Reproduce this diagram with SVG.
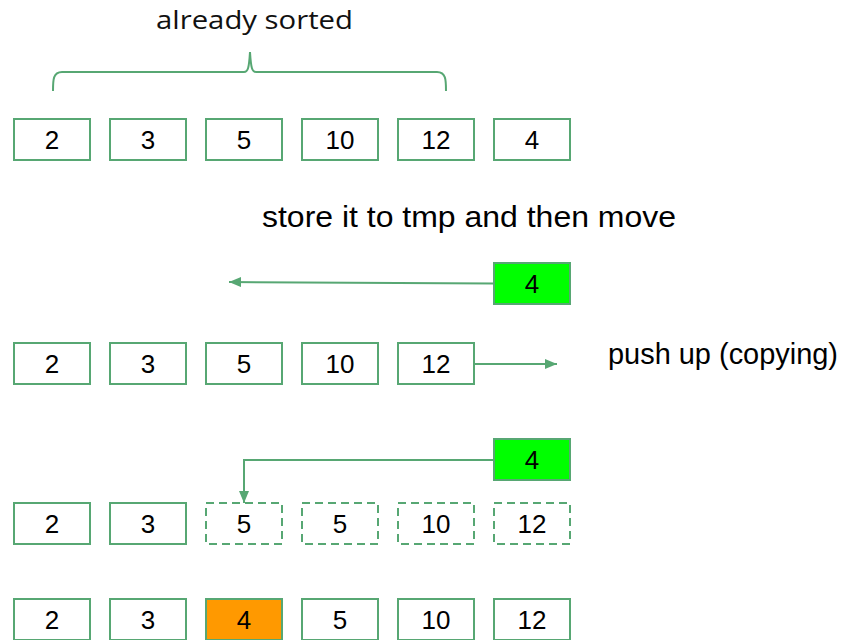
<svg xmlns="http://www.w3.org/2000/svg" width="851" height="640" viewBox="0 0 851 640">
<defs>
<style>
.box{fill:#ffffff;stroke:#57a773;stroke-width:2}
.dash{fill:#ffffff;stroke:#57a773;stroke-width:2;stroke-dasharray:8,5}
.tmp{fill:#00ff00;stroke:#57a773;stroke-width:2}
.hit{fill:#ff9900;stroke:#57a773;stroke-width:2}
.num{font-family:"Liberation Sans",Arial,sans-serif;font-size:26px;fill:#000000;text-anchor:middle}
.lbl{font-family:"Liberation Sans",Arial,sans-serif;font-size:29px;fill:#000000}
.conn{fill:none;stroke:#57a773;stroke-width:2}
</style>
<marker id="ah" markerUnits="userSpaceOnUse" markerWidth="12" markerHeight="10" refX="12" refY="5" orient="auto">
<path d="M0,0 L12,5 L0,10 z" fill="#57a773"/>
</marker>
</defs>
<rect width="851" height="640" fill="#ffffff"/>

<text id="label-sorted" x="254.5" y="29" font-family="'Open Sans',sans-serif" font-size="26" fill="#111111" text-anchor="middle" textLength="197" lengthAdjust="spacingAndGlyphs">already sorted</text>
<text id="label-store" class="lbl" x="262" y="227" textLength="414" lengthAdjust="spacingAndGlyphs">store it to tmp and then move</text>
<text id="label-push" class="lbl" x="608" y="364" textLength="230" lengthAdjust="spacingAndGlyphs">push up (copying)</text>

<g id="connectors">
<path id="brace" class="conn" d="M53,91 C53,80 53,72 62,72 L244,72 C248,72 249,68 250,52 C251,68 252,72 256,72 L437,72 C446,72 446,80 446,91"/>
<path class="conn" d="M494,283.5 L229,282" marker-end="url(#ah)"/>
<path class="conn" d="M475,364 L557,364" marker-end="url(#ah)"/>
<path class="conn" d="M494,460 L244,460 L244,503" marker-end="url(#ah)"/>
</g>

<g id="row1">
<g id="r1-2"><rect class="box" x="14" y="119" width="76" height="41"/><text class="num" x="52" y="149">2</text></g>
<g id="r1-3"><rect class="box" x="110" y="119" width="76" height="41"/><text class="num" x="148" y="149">3</text></g>
<g id="r1-5"><rect class="box" x="206" y="119" width="76" height="41"/><text class="num" x="244" y="149">5</text></g>
<g id="r1-10"><rect class="box" x="302" y="119" width="76" height="41"/><text class="num" x="340" y="149">10</text></g>
<g id="r1-12"><rect class="box" x="398" y="119" width="76" height="41"/><text class="num" x="436" y="149">12</text></g>
<g id="r1-4"><rect class="box" x="494" y="119" width="76" height="41"/><text class="num" x="532" y="149">4</text></g>
</g>

<g id="tmp1"><rect class="tmp" x="494" y="263" width="76" height="41"/><text class="num" x="532" y="293">4</text></g>

<g id="row3">
<g id="r3-2"><rect class="box" x="14" y="343" width="76" height="41"/><text class="num" x="52" y="373">2</text></g>
<g id="r3-3"><rect class="box" x="110" y="343" width="76" height="41"/><text class="num" x="148" y="373">3</text></g>
<g id="r3-5"><rect class="box" x="206" y="343" width="76" height="41"/><text class="num" x="244" y="373">5</text></g>
<g id="r3-10"><rect class="box" x="302" y="343" width="76" height="41"/><text class="num" x="340" y="373">10</text></g>
<g id="r3-12"><rect class="box" x="398" y="343" width="76" height="41"/><text class="num" x="436" y="373">12</text></g>
</g>

<g id="tmp2"><rect class="tmp" x="494" y="439" width="76" height="41"/><text class="num" x="532" y="469">4</text></g>

<g id="row5">
<g id="r5-2"><rect class="box" x="14" y="503" width="76" height="41"/><text class="num" x="52" y="533">2</text></g>
<g id="r5-3"><rect class="box" x="110" y="503" width="76" height="41"/><text class="num" x="148" y="533">3</text></g>
<g id="r5-5a"><rect class="dash" x="206" y="503" width="76" height="41"/><text class="num" x="244" y="533">5</text></g>
<g id="r5-5b"><rect class="dash" x="302" y="503" width="76" height="41"/><text class="num" x="340" y="533">5</text></g>
<g id="r5-10"><rect class="dash" x="398" y="503" width="76" height="41"/><text class="num" x="436" y="533">10</text></g>
<g id="r5-12"><rect class="dash" x="494" y="503" width="76" height="41"/><text class="num" x="532" y="533">12</text></g>
</g>

<g id="row6">
<g id="r6-2"><rect class="box" x="14" y="599" width="76" height="41"/><text class="num" x="52" y="629">2</text></g>
<g id="r6-3"><rect class="box" x="110" y="599" width="76" height="41"/><text class="num" x="148" y="629">3</text></g>
<g id="r6-4"><rect class="hit" x="206" y="599" width="76" height="41"/><text class="num" x="244" y="629">4</text></g>
<g id="r6-5"><rect class="box" x="302" y="599" width="76" height="41"/><text class="num" x="340" y="629">5</text></g>
<g id="r6-10"><rect class="box" x="398" y="599" width="76" height="41"/><text class="num" x="436" y="629">10</text></g>
<g id="r6-12"><rect class="box" x="494" y="599" width="76" height="41"/><text class="num" x="532" y="629">12</text></g>
</g>
</svg>
